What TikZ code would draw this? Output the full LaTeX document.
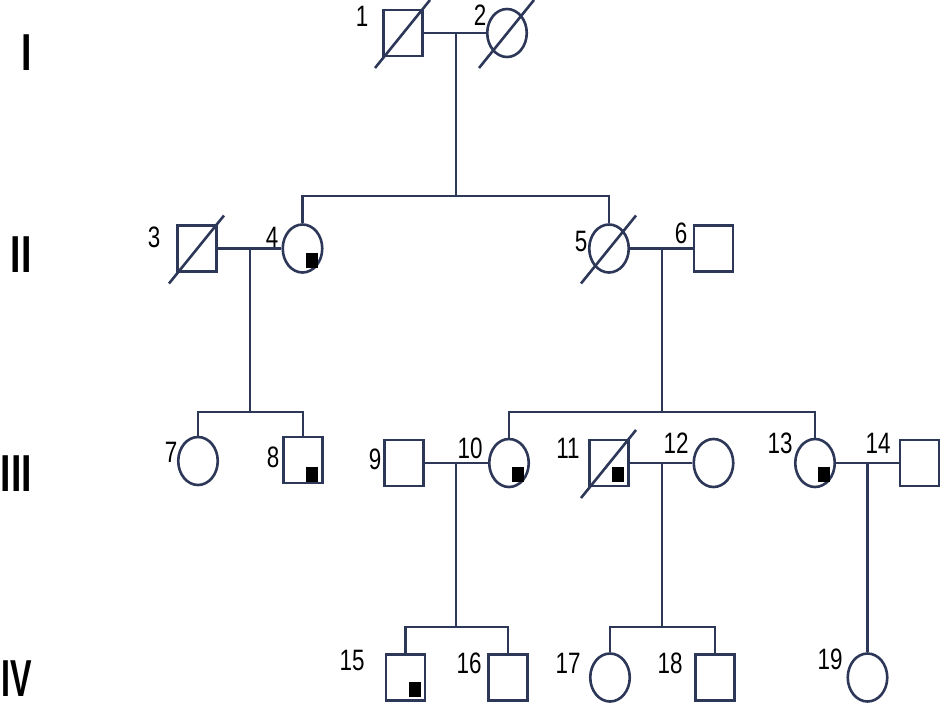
\documentclass[tikz,border=0pt]{standalone}
\usepackage{fontspec}
\setmainfont{Liberation Sans}
\newfontfamily\numfont[FakeStretch=0.76]{Liberation Sans}
\newfontfamily\genfont[FakeStretch=0.72]{Liberation Sans}
\newfontfamily\genfontiv[FakeStretch=0.62]{Liberation Sans}
\usetikzlibrary{shapes.geometric}
\definecolor{navy}{RGB}{45,55,88}
\begin{document}
\begin{tikzpicture}[x=1pt,y=-1pt,
  ln/.style={draw=navy, line width=2.6pt},
  male/.style={draw=navy, line width=2.6pt, rectangle, minimum width=39pt, minimum height=46pt, inner sep=0pt},
  female/.style={draw=navy, line width=2.6pt, ellipse, minimum width=39.5pt, minimum height=48pt, inner sep=0pt},
  lab/.style={font=\numfont\fontsize{29.5}{29.5}\selectfont, inner sep=0pt, text=black},
  gen/.style={font=\genfont\bfseries\fontsize{52}{52}\selectfont, anchor=east, inner sep=0pt, text=black}
]
\useasboundingbox (0,0) rectangle (941,704);
% generation labels
\node[gen] (gI) at (32,53) {I};
\node[gen] (gII) at (32,254.5) {II};
\node[gen] (gIII) at (32,474) {III};
\node[gen, anchor=west, font=\genfontiv\bfseries\fontsize{52}{52}\selectfont] (gIV) at (1.5,679) {IV};
% individuals
\node[male] (n1) at (403,33) {};
\node[female] (n2) at (507,33) {};
\node[male] (n3) at (197,248.5) {};
\node[female] (n4) at (302.5,248.5) {};
\node[female] (n5) at (609,248.5) {};
\node[male] (n6) at (713.5,248.5) {};
\node[female] (n7) at (198,461) {};
\node[male] (n8) at (303,460) {};
\node[male] (n9) at (404,463) {};
\node[female] (n10) at (509,463) {};
\node[male] (n11) at (609,463) {};
\node[female] (n12) at (713.5,463) {};
\node[female] (n13) at (815,463) {};
\node[male] (n14) at (919.5,463) {};
\node[male] (n15) at (405.5,677.5) {};
\node[male] (n16) at (508,677.5) {};
\node[female] (n17) at (610,677.5) {};
\node[male] (n18) at (715,677.5) {};
\node[female] (n19) at (867.5,677.5) {};
% deceased slashes
\foreach \n in {n1,n2,n3,n5,n11}
  \draw[ln] ([shift={(-28,35)}]\n.center) -- ([shift={(27,-33)}]\n.center);
% affected marks
\foreach \n in {n4,n10,n11,n13,n15}
  \fill ([shift={(3,4)}]\n.center) rectangle ([shift={(15,19)}]\n.center);
\fill ([shift={(3,6.5)}]n8.center) rectangle ([shift={(15,21.5)}]n8.center);
% junction points
\coordinate (m12) at (456,33);
\coordinate (j1) at (456,196);
\coordinate (m34) at (250,248.5);
\coordinate (j2) at (250,412);
\coordinate (m56) at (662,248.5);
\coordinate (j3) at (662,412);
\coordinate (m910) at (456,463);
\coordinate (j4) at (456,627);
\coordinate (m1112) at (662,463);
\coordinate (j5) at (662,627);
\coordinate (m1314) at (867.5,463);
% marriage lines
\draw[ln] (n1.east) -- (n2.west);
\draw[ln] (n3.east) -- (n4.west);
\draw[ln] (n5.east) -- (n6.west);
\draw[ln] (n9.east) -- (n10.west);
\draw[ln] (n11.east) -- (n12.west);
\draw[ln] (n13.east) -- (n14.west);
% descent and sibship lines
\draw[ln] (m12) -- (j1);
\draw[ln] (n4.north) |- (j1) -| (n5.north);
\draw[ln] (m34) -- (j2);
\draw[ln] (n7.north) |- (j2) -| (n8.north);
\draw[ln] (m56) -- (j3);
\draw[ln] (n10.north) |- (j3) -| (n13.north);
\draw[ln] (m910) -- (j4);
\draw[ln] (n15.north) |- (j4) -| (n16.north);
\draw[ln] (m1112) -- (j5);
\draw[ln] (n17.north) |- (j5) -| (n18.north);
\draw[ln] (m1314) -- (n19.north);
% number labels
\node[lab] (l1) at (362,16) {1};
\node[lab] (l2) at (480,15) {2};
\node[lab] (l3) at (154,237) {3};
\node[lab] (l4) at (272,237) {4};
\node[lab] (l5) at (581,241) {5};
\node[lab] (l6) at (681,233) {6};
\node[lab] (l7) at (171,452) {7};
\node[lab] (l8) at (273,457) {8};
\node[lab] (l9) at (375,459) {9};
\node[lab] (l10) at (470,448) {10};
\node[lab] (l11) at (568,448) {11};
\node[lab] (l12) at (676,443) {12};
\node[lab] (l13) at (780,443) {13};
\node[lab] (l14) at (878,443) {14};
\node[lab] (l15) at (352,660) {15};
\node[lab] (l16) at (469,663) {16};
\node[lab] (l17) at (568,663) {17};
\node[lab] (l18) at (670,663) {18};
\node[lab] (l19) at (830,659) {19};
\end{tikzpicture}
\end{document}
